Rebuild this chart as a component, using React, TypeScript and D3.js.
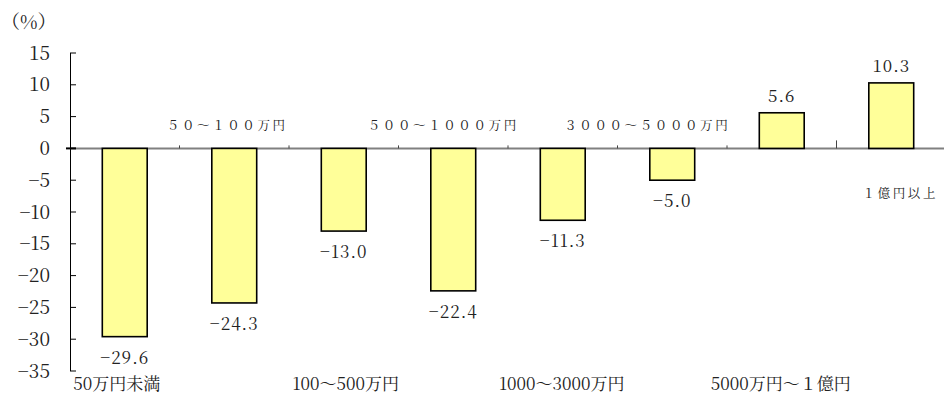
import React from "react";
import * as d3 from "d3";

const categories = [
  "50万円未満",
  "５０～１００万円",
  "100～500万円",
  "５００～１０００万円",
  "1000～3000万円",
  "３０００～５０００万円",
  "5000万円～１億円",
  "１億円以上",
];
const values = [-29.6, -24.3, -13.0, -22.4, -11.3, -5.0, 5.6, 10.3];
const yTicks = [15, 10, 5, 0, -5, -10, -15, -20, -25, -30, -35];
const unitLabel = "（%）";

// label layout: row ("bottom" | "top" | "mid"), horizontal offset from band centre
const labelRow = ["bottom", "top", "bottom", "top", "bottom", "top", "bottom", "mid"];
const labelDx = [-8, -7, 2, -10, -1, -25, -1, 9];

const W = 944;
const H = 410;
const FONT = "'Noto Serif CJK JP', 'Liberation Serif', serif";

const fmt = (v: number) => (v < 0 ? "\u2212" + Math.abs(v).toFixed(1) : v.toFixed(1));
const fmtTick = (v: number) => (v < 0 ? "\u2212" + Math.abs(v) : String(v));

export default function App() {
  const x = d3.scaleBand<string>().domain(categories).range([70, 946]).padding(0);
  const y = d3.scaleLinear().domain([-35, 15]).range([371, 53]);
  const bw = x.bandwidth() * 0.41;
  const y0 = y(0);

  return (
    <svg
      width={W}
      height={H}
      style={{ position: "absolute", left: 0, top: 0, background: "#fff", fontFamily: FONT }}
    >
      <text x={1} y={22} dy="0.35em" fontSize={19} fill="#222">
        {unitLabel}
      </text>

      {/* zero line */}
      <line x1={70} x2={W} y1={y0} y2={y0} stroke="#808080" strokeWidth={2} />
      {/* category boundary ticks */}
      {categories.slice(1).map((c, i) => {
        const bx = x(c)!;
        return (
          <line
            key={c}
            x1={bx}
            x2={bx}
            y1={y0 - (i === 6 ? 8 : 3)}
            y2={y0}
            stroke="#444"
            strokeWidth={1}
          />
        );
      })}

      {/* y axis */}
      <line x1={70.5} x2={70.5} y1={y(15)} y2={y(-35)} stroke="#000" strokeWidth={1} />
      {yTicks.map((t) => (
        <g key={t}>
          <line x1={70} x2={76} y1={y(t)} y2={y(t)} stroke="#000" strokeWidth={1} />
          <text
            x={50}
            y={y(t)}
            dy="0.35em"
            textAnchor="end"
            fontSize={19}
            fill="#222"
          >
            {fmtTick(t)}
          </text>
        </g>
      ))}
      <line x1={66} x2={76} y1={y0} y2={y0} stroke="#000" strokeWidth={2} />

      {/* bars */}
      {categories.map((c, i) => {
        const v = values[i];
        const cx = x(c)! + x.bandwidth() / 2;
        const top = Math.min(y(v), y0);
        const h = Math.abs(y(v) - y0);
        return (
          <g key={c}>
            <rect
              x={cx - bw / 2}
              y={top}
              width={bw}
              height={h}
              fill="#FFFF99"
              stroke="#000"
              strokeWidth={1.6}
            />
            <text
              x={cx}
              y={v < 0 ? y(v) + 21 : y(v) - 17}
              dy="0.35em"
              textAnchor="middle"
              fontSize={17}
              letterSpacing={1}
              fill="#222"
            >
              {fmt(v)}
            </text>
          </g>
        );
      })}

      {/* category labels */}
      {categories.map((c, i) => {
        const cx = x(c)! + x.bandwidth() / 2 + labelDx[i];
        const row = labelRow[i];
        if (row === "bottom") {
          return (
            <text
              key={c}
              x={cx}
              y={384}
              dy="0.35em"
              textAnchor="middle"
              fontSize={17}
              fill="#222"
            >
              {c}
            </text>
          );
        }
        return (
          <text
            key={c}
            x={cx}
            y={row === "top" ? 126 : 194}
            dy="0.35em"
            textAnchor="middle"
            fontSize={12.5}
            letterSpacing={2.6}
            fill="#222"
          >
            {c}
          </text>
        );
      })}
    </svg>
  );
}
